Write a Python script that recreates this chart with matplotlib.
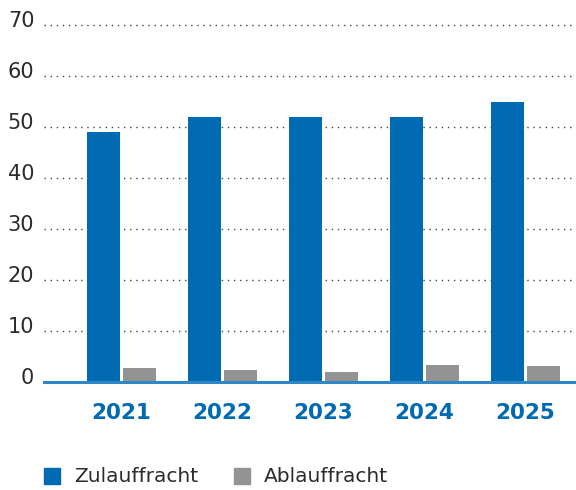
import matplotlib
matplotlib.use("Agg")
import matplotlib.pyplot as plt
import matplotlib.transforms as mtransforms
from matplotlib.patches import Rectangle
import numpy as np

years = ["2021", "2022", "2023", "2024", "2025"]
zulauf = [49, 52, 52, 52, 55]
ablauf = [2.8, 2.4, 2.0, 3.3, 3.1]
series_names = ["Zulauffracht", "Ablauffracht"]
yticks = [0, 10, 20, 30, 40, 50, 60, 70]

BLUE = "#006AB3"
GRAY = "#939393"
TEXT = "#2b2b2b"

fig = plt.figure(figsize=(5.76, 4.9), dpi=100)
ax = fig.add_axes([44/576, (490-382)/490, 532/576, (382-25)/490])

x = np.arange(len(years))
w = 0.327
off = 0.178
ax.bar(x - off, zulauf, width=w, color=BLUE, zorder=3)
ax.bar(x + off, ablauf, width=w, color=GRAY, zorder=3)

ax.set_xlim(-0.767, 4.5)
ax.set_ylim(0, 70)
ax.set_yticks(yticks)
ax.set_yticklabels([str(t) for t in yticks])
for t in yticks[1:]:
    ax.axhline(t, color="#444444", lw=1.0, ls=(0, (1, 3.4)), zorder=1, clip_on=False)
ax.axhline(0, color="#2F86C6", lw=2.2, zorder=4, clip_on=False)

for s in ax.spines.values():
    s.set_visible(False)
ax.tick_params(axis="y", length=0, pad=7, labelsize=15, labelcolor=TEXT)
ax.tick_params(axis="x", length=0, pad=15)
ax.set_xticks(x)
ax.set_xticklabels(years, fontsize=15.5, fontweight="bold", color=BLUE)
offset = mtransforms.ScaledTranslation(0, 6/100, fig.dpi_scale_trans)
for lab in ax.get_yticklabels():
    lab.set_transform(lab.get_transform() + offset)

# legend
H = 490
def box(x0, y0, color):
    fig.patches.append(Rectangle((x0/576, (H-y0-16)/H), 16/576, 16/H,
                                 transform=fig.transFigure, color=color))
box(44, 468, BLUE)
box(234, 468, GRAY)
fig.text(74/576, (H-476)/H, series_names[0], fontsize=14.5, color=TEXT, va="center", ha="left")
fig.text(264/576, (H-476)/H, series_names[1], fontsize=14.5, color=TEXT, va="center", ha="left")

fig.savefig("out.png", dpi=100)
